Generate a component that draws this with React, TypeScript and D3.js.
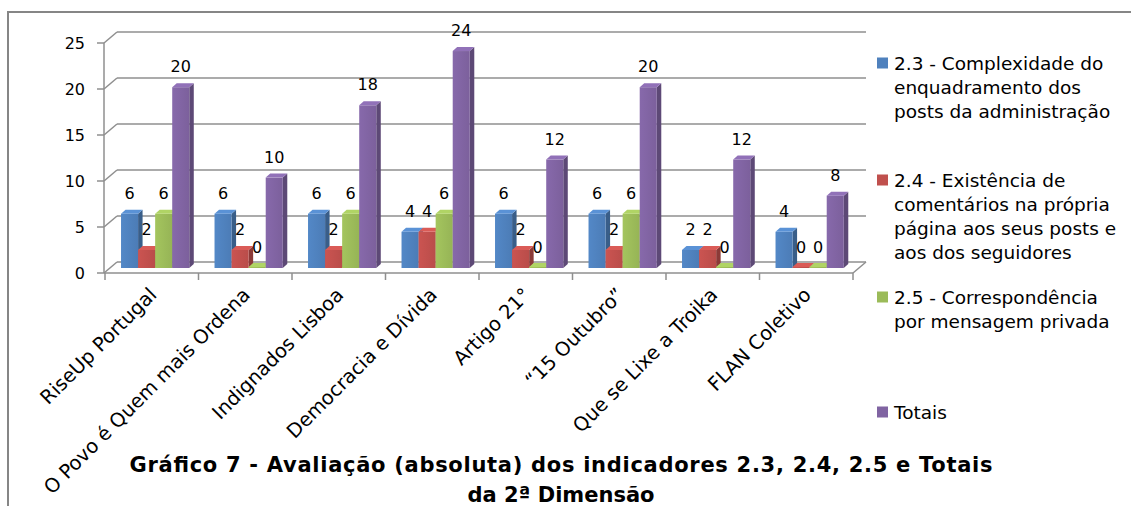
import React from "react";
import * as d3 from "d3";

const categories = [
  "RiseUp Portugal",
  "O Povo é Quem mais Ordena",
  "Indignados Lisboa",
  "Democracia e Dívida",
  "Artigo 21°",
  "“15 Outubro”",
  "Que se Lixe a Troika",
  "FLAN Coletivo",
];
const seriesNames = ["2.3", "2.4", "2.5", "Totais"];
const s23 = [6, 6, 6, 4, 6, 6, 2, 4];
const s24 = [2, 2, 2, 4, 2, 2, 2, 0];
const s25 = [6, 0, 6, 6, 0, 6, 0, 0];
const totais = [20, 10, 18, 24, 12, 20, 12, 8];
const yTicks = [0, 5, 10, 15, 20, 25];
const colors = ["#4F81BD", "#C0504D", "#9BBB59", "#8064A2"];
const legendLines = [
  ["2.3 - Complexidade do", "enquadramento dos", "posts da administração"],
  ["2.4 - Existência de", "comentários na própria", "página aos seus posts e", "aos dos seguidores"],
  ["2.5 - Correspondência", "por mensagem privada"],
  ["Totais"],
];
const titleLines = [
  "Gráfico 7 - Avaliação (absoluta) dos indicadores 2.3, 2.4, 2.5 e Totais",
  "da 2ª Dimensão",
];

const FONT = "'DejaVu Sans', Verdana, sans-serif";

export default function App() {
  const W = 1131, H = 506;
  const values = [s23, s24, s25, totais];

  // front plane
  const x0 = d3.scaleBand<string>().domain(categories).range([105, 853]).padding(0);
  const yFront = d3.scaleLinear().domain([0, 25]).range([273, 43]);
  // back wall plane
  const DX = 13, DY = -11;
  const yBack = (v: number) => yFront(v) + DY;
  // bar plane
  const yBar = d3.scaleLinear().domain([0, 25]).range([268, 42]);
  const bw = x0.bandwidth();
  const groupW = bw * 0.73;
  const groupOff = (bw - groupW) / 2 + 3.4;
  const x1 = d3.scaleBand<string>().domain(seriesNames).range([0, groupW]).padding(0);
  const SD = 4.5, SU = 4; // bar depth

  const gridColor = "#8f8f8f";

  const bars: React.ReactNode[] = [];
  const labels: React.ReactNode[] = [];
  categories.forEach((c, ci) => {
    seriesNames.forEach((s, si) => {
      const v = values[si][ci];
      const xl = (x0(c) as number) + groupOff + (x1(s) as number);
      const w = x1.bandwidth();
      const yb = yBar(0);
      let yt = yBar(v);
      if (v === 0) yt = yb - 1;
      const col = d3.color(colors[si])!;
      const side = col.darker(0.9).formatHex();
      const top = col.brighter(0.35).formatHex();
      const key = `${ci}-${si}`;
      bars.push(
        <g key={key}>
          <path
            d={`M${xl + w},${yt} L${xl + w + SD},${yt - SU} L${xl + w + SD},${yb - SU} L${xl + w},${yb} Z`}
            fill={side}
          />
          <rect x={xl} y={yt} width={w} height={yb - yt} fill={`url(#grad${si})`} />
          <path
            d={`M${xl},${yt} L${xl + SD},${yt - SU} L${xl + w + SD},${yt - SU} L${xl + w},${yt} Z`}
            fill={top}
          />
        </g>
      );
      labels.push(
        <text
          key={"l" + key}
          x={xl + w / 2}
          y={yBar(v) - 15}
          textAnchor="middle"
          fontSize={16}
          fontFamily={FONT}
          fill="#000"
        >
          {v}
        </text>
      );
    });
  });

  const legendStartY = [63, 180, 297, 412];

  return (
    <svg width={W} height={H} style={{ position: "absolute", left: 0, top: 0, background: "#fff" }}>
      <defs>
        {colors.map((c, i) => {
          const col = d3.color(c)!;
          return (
            <linearGradient id={`grad${i}`} key={i} x1="0" x2="1" y1="0" y2="0">
              <stop offset="0" stopColor={col.brighter(0.15).formatHex()} />
              <stop offset="1" stopColor={col.darker(0.1).formatHex()} />
            </linearGradient>
          );
        })}
      </defs>
      <rect x={0} y={0} width={W} height={H} fill="#fff" />
      {/* outer border */}
      <path d={`M8,${H + 5} L8,12 L${W + 5},12`} fill="none" stroke="#868686" strokeWidth={2} />

      {/* back wall gridlines */}
      {yTicks.map((t) => (
        <g key={"g" + t}>
          <line x1={104 + DX} x2={853 + DX} y1={yBack(t)} y2={yBack(t)} stroke={gridColor} strokeWidth={1.5} />
          <line x1={104} x2={104 + DX} y1={yFront(t)} y2={yBack(t)} stroke={gridColor} strokeWidth={1.5} />
          <line x1={97} x2={104} y1={yFront(t)} y2={yFront(t)} stroke={gridColor} strokeWidth={1.5} />
          <text
            x={85}
            y={yFront(t)}
            dy="0.36em"
            textAnchor="end"
            fontSize={16}
            fontFamily={FONT}
            fill="#000"
          >
            {t}
          </text>
        </g>
      ))}
      {/* front axis */}
      <line x1={104} x2={104} y1={yFront(0)} y2={yFront(25)} stroke={gridColor} strokeWidth={1.5} />
      {/* floor */}
      <line x1={104} x2={853} y1={yFront(0)} y2={yFront(0)} stroke={gridColor} strokeWidth={1.5} />
      <line x1={853} x2={853 + DX} y1={yFront(0)} y2={yBack(0)} stroke={gridColor} strokeWidth={1.5} />
      {categories.concat([""]).map((c, i) => {
        const x = 105 + i * bw;
        return <line key={"t" + i} x1={x} x2={x} y1={yFront(0)} y2={yFront(0) + 7} stroke={gridColor} strokeWidth={1.5} />;
      })}

      {bars}
      {labels}

      {/* category labels */}
      {categories.map((c) => {
        const cx = (x0(c) as number) + bw / 2 + 6;
        const cy = 296;
        return (
          <text
            key={"c" + c}
            transform={`translate(${cx},${cy}) rotate(-45)`}
            textAnchor="end"
            fontSize={19.5}
            fontFamily={FONT}
            fill="#000"
          >
            {c}
          </text>
        );
      })}

      {/* legend */}
      {legendLines.map((lines, i) => (
        <g key={"lg" + i}>
          <rect x={877} y={legendStartY[i] - 5.5} width={11} height={11} fill={colors[i]} />
          {lines.map((ln, j) => (
            <text
              key={j}
              x={894}
              y={legendStartY[i] + j * 24}
              dy="0.36em"
              fontSize={18.5}
              fontFamily={FONT}
              fill="#000"
            >
              {ln}
            </text>
          ))}
        </g>
      ))}

      {/* title */}
      {titleLines.map((t, i) => (
        <text
          key={"ti" + i}
          x={561}
          y={472 + i * 30}
          textAnchor="middle"
          fontSize={21}
          fontWeight="bold"
          fontFamily={FONT}
          fill="#000"
          textLength={i === 0 ? 863 : undefined}
          lengthAdjust={i === 0 ? "spacing" : undefined}
        >
          {t}
        </text>
      ))}
    </svg>
  );
}
